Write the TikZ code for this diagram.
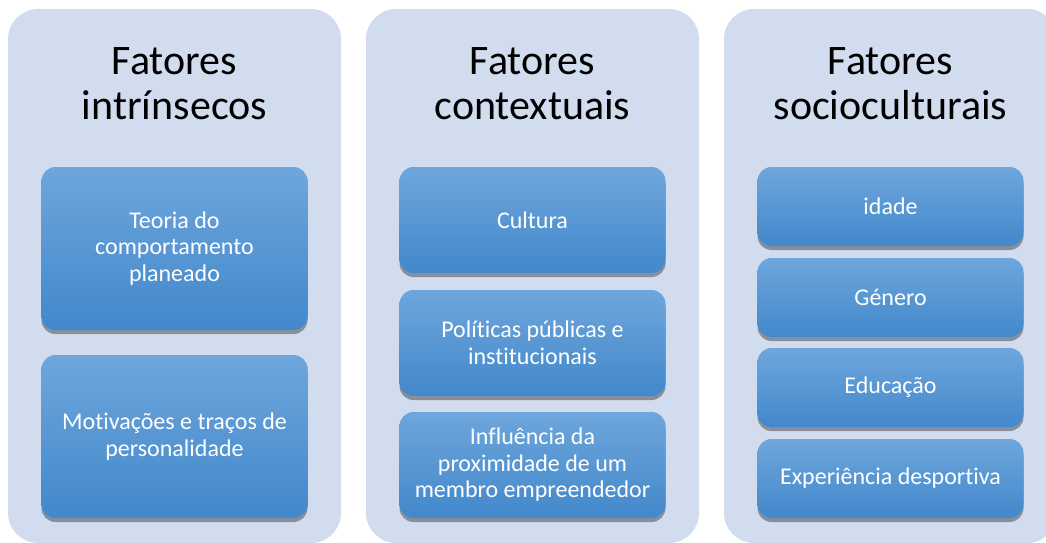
\documentclass[tikz,border=0pt]{standalone}
\usepackage{fontspec}
\setmainfont{Carlito}[Ligatures=NoCommon]
\usetikzlibrary{shadows,positioning}

\definecolor{panelblue}{RGB}{209,221,238}
\definecolor{boxtop}{RGB}{110,166,220}
\definecolor{boxbottom}{RGB}{66,136,203}

\begin{document}
\begin{tikzpicture}[x=1pt,y=-1pt,
    panel/.style={rectangle, fill=panelblue, rounded corners=30pt, minimum width=333pt, minimum height=534pt, inner sep=0pt},
    heading/.style={align=center, font=\fontsize{42}{45}\selectfont, text=black},
    factor/.style={rectangle, rounded corners=14pt, top color=boxtop, bottom color=boxbottom, minimum width=266pt, inner sep=0pt, align=center, text=white, font=\fontsize{24}{26.5}\selectfont, drop shadow={shadow xshift=0pt, shadow yshift=-4pt, opacity=0.35, fill=black}}]
        \useasboundingbox (0,0) rectangle (1046,543);
        % panels
        \node[panel] at (174.5,276) (pintr) {};
        \node[panel] at (532.5,276) (pcont) {};
        \node[panel] at (890.5,276) (psoc) {};
        \node[heading] at (174.5,84) (tintr) {Fatores\\intrínsecos};
        \node[heading] at (532.5,84) (tcont) {Fatores\\contextuais};
        \node[heading] at (890.5,84) (tsoc) {Fatores\\socioculturais};
        % intrinsecos
        \node[factor, minimum height=163pt] at (174.5,248.5) (teoria) {Teoria do\\comportamento\\planeado};
        \node[factor, minimum height=163pt] at (174.5,436.5) (motiv) {Motivações e traços de\\personalidade};
        % contextuais
        \node[factor, minimum height=106pt] at (532.5,220) (cultura) {Cultura};
        \node[factor, minimum height=106pt] at (532.5,343) (politicas) {Políticas públicas e\\institucionais};
        \node[factor, minimum height=106pt] at (532.5,465) (influencia) {Influência da\\proximidade de um\\membro empreendedor};
        % socioculturais
        \node[factor, minimum height=79pt] at (890.5,206.5) (idade) {idade};
        \node[factor, minimum height=79pt] at (890.5,297.5) (genero) {Género};
        \node[factor, minimum height=79pt] at (890.5,387.5) (educ) {Educação};
        \node[factor, minimum height=79pt] at (890.5,478.5) (exper) {Experiência desportiva};
      \end{tikzpicture}
\end{document}
